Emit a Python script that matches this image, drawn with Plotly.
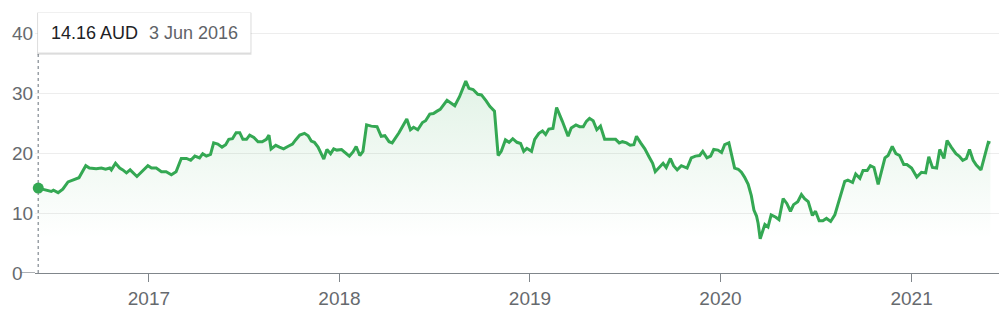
import plotly.graph_objects as go

# ---------------- data ----------------
dates = [
    "2016-06-03", "2016-06-18", "2016-06-28", "2016-07-02", "2016-07-11", "2016-07-20", "2016-07-30",
    "2016-08-08", "2016-08-20", "2016-09-02", "2016-09-09", "2016-09-22", "2016-10-02", "2016-10-10",
    "2016-10-18", "2016-10-21", "2016-10-29", "2016-11-06", "2016-11-12", "2016-11-19", "2016-11-26",
    "2016-12-09", "2016-12-20", "2016-12-30",
    "2017-01-06", "2017-01-15", "2017-01-25", "2017-02-03", "2017-02-13", "2017-02-22", "2017-03-04",
    "2017-03-14", "2017-03-22", "2017-03-30", "2017-04-08", "2017-04-14", "2017-04-21", "2017-04-29",
    "2017-05-05", "2017-05-13", "2017-05-21", "2017-05-28", "2017-06-03", "2017-06-10", "2017-06-17",
    "2017-06-24", "2017-06-30", "2017-07-07", "2017-07-13", "2017-07-21", "2017-07-29", "2017-08-06",
    "2017-08-14", "2017-08-19", "2017-08-23", "2017-09-01", "2017-09-08", "2017-09-16", "2017-09-24",
    "2017-10-03", "2017-10-09", "2017-10-17", "2017-10-26", "2017-11-02", "2017-11-08", "2017-11-14",
    "2017-11-21", "2017-11-26", "2017-12-02", "2017-12-08", "2017-12-15", "2017-12-21", "2017-12-27",
    "2018-01-05", "2018-01-14", "2018-01-20", "2018-01-27", "2018-02-02", "2018-02-09", "2018-02-15",
    "2018-02-22", "2018-03-03", "2018-03-14", "2018-03-22", "2018-03-29", "2018-04-06", "2018-04-12",
    "2018-04-25", "2018-05-10", "2018-05-17", "2018-05-23", "2018-05-31", "2018-06-09", "2018-06-15",
    "2018-06-23", "2018-06-30", "2018-07-07", "2018-07-13", "2018-07-26", "2018-08-10", "2018-08-19",
    "2018-08-31", "2018-09-06", "2018-09-14", "2018-09-23", "2018-09-30", "2018-10-09", "2018-10-16",
    "2018-10-25", "2018-11-01", "2018-11-07", "2018-11-15", "2018-11-22", "2018-11-29", "2018-12-07",
    "2018-12-14", "2018-12-20", "2018-12-26",
    "2019-01-04", "2019-01-10", "2019-01-18", "2019-01-25", "2019-01-31", "2019-02-06", "2019-02-14",
    "2019-02-21", "2019-03-04", "2019-03-15", "2019-03-21", "2019-03-30", "2019-04-06", "2019-04-13",
    "2019-04-19", "2019-04-25", "2019-05-02", "2019-05-09", "2019-05-16", "2019-05-24", "2019-06-03",
    "2019-06-14", "2019-06-21", "2019-06-27", "2019-07-05", "2019-07-12", "2019-07-19", "2019-07-24",
    "2019-08-01", "2019-08-09", "2019-08-17", "2019-08-24", "2019-08-29", "2019-09-07", "2019-09-13",
    "2019-09-19", "2019-09-27", "2019-10-03", "2019-10-10", "2019-10-18", "2019-10-29", "2019-11-06",
    "2019-11-14", "2019-11-22", "2019-11-28", "2019-12-06", "2019-12-13", "2019-12-19", "2019-12-27",
    "2020-01-03", "2020-01-09", "2020-01-17", "2020-01-28", "2020-02-04", "2020-02-10", "2020-02-16",
    "2020-02-23", "2020-02-29", "2020-03-05", "2020-03-10", "2020-03-13", "2020-03-17", "2020-03-26",
    "2020-04-01", "2020-04-07", "2020-04-16", "2020-04-22", "2020-04-30", "2020-05-07", "2020-05-14",
    "2020-05-20", "2020-05-28", "2020-06-04", "2020-06-10", "2020-06-17", "2020-06-25", "2020-07-01",
    "2020-07-08", "2020-07-15", "2020-07-22", "2020-07-30", "2020-08-07", "2020-08-13", "2020-08-20",
    "2020-08-26", "2020-09-01", "2020-09-10", "2020-09-16", "2020-09-24", "2020-09-30", "2020-10-08",
    "2020-10-14", "2020-10-21", "2020-10-29", "2020-11-04", "2020-11-11", "2020-11-17", "2020-11-25",
    "2020-12-02", "2020-12-09", "2020-12-17", "2020-12-23",
    "2021-01-01", "2021-01-11", "2021-01-20", "2021-01-28", "2021-02-03", "2021-02-10", "2021-02-18",
    "2021-02-24", "2021-03-04", "2021-03-10", "2021-03-18", "2021-03-27", "2021-04-02", "2021-04-09",
    "2021-04-16", "2021-04-22", "2021-04-29", "2021-05-05", "2021-05-14", "2021-05-21", "2021-05-28",
    "2021-06-01",
]

prices = [
    14.16, 13.8, 13.6, 13.8, 13.4, 14.0, 15.2, 15.5, 15.9, 17.9, 17.5, 17.4, 17.5, 17.3, 17.5, 17.2,
    18.3, 17.5, 17.2, 16.7, 17.2, 16.1, 17.1, 17.9,
    17.5, 17.5, 16.9, 16.9, 16.4, 16.9, 19.1, 19.1, 18.8, 19.5, 19.2, 19.9, 19.5, 19.8, 21.7, 21.5,
    21.0, 21.4, 22.3, 22.4, 23.4, 23.4, 22.3, 22.3, 23.0, 22.6, 21.9, 21.9, 22.3, 23.0, 20.7, 21.3,
    21.0, 20.7, 21.1, 21.5, 22.2, 23.0, 23.3, 22.9, 22.0, 21.8, 21.0, 20.2, 19.0, 20.6, 19.9, 20.7,
    20.5,
    20.6, 19.9, 19.5, 20.2, 21.1, 19.6, 20.3, 24.7, 24.5, 24.4, 22.8, 22.9, 21.9, 21.7, 23.4, 25.7,
    23.9, 24.3, 23.9, 25.1, 25.4, 26.5, 26.6, 27.0, 27.3, 28.8, 27.9, 29.4, 32.0, 30.8, 30.6, 29.8,
    29.7, 28.7, 27.8, 27.0, 19.6, 20.3, 22.2, 21.8, 22.4, 21.8, 21.6, 20.3, 20.8,
    20.3, 22.3, 23.3, 23.7, 23.1, 24.0, 24.1, 27.6, 25.3, 22.8, 24.2, 24.7, 24.4, 24.4, 25.3, 25.8,
    25.4, 23.9, 24.5, 22.3, 22.3, 22.3, 21.7, 21.9, 21.7, 21.3, 21.4, 22.8, 21.7, 20.7, 19.4, 18.3,
    16.9, 17.8, 18.3, 17.6, 19.1, 17.9, 17.2, 17.9, 17.5, 19.2, 19.5, 19.6, 20.3, 19.2, 19.5, 20.6,
    20.5,
    20.1, 21.4, 21.7, 17.5, 17.3, 16.8, 16.0, 14.8, 12.9, 10.5, 9.5, 8.3, 5.7, 8.1, 7.7, 9.7, 9.3,
    8.9, 12.4, 11.6, 10.3, 11.4, 11.9, 13.1, 12.4, 11.9, 9.6, 10.3, 8.7, 8.7, 9.1, 8.6, 9.7, 11.6,
    13.5, 15.3, 15.5, 15.1, 16.5, 15.8, 17.1, 17.1, 17.9, 17.6, 14.8, 17.0, 19.2, 19.6, 21.1, 19.9,
    19.6, 18.1, 18.1,
    17.5, 16.0, 16.8, 16.7, 19.4, 17.6, 17.5, 20.6, 19.1, 22.1, 21.0, 19.9, 19.5, 18.8, 19.1, 20.6,
    18.8, 18.0, 17.2, 19.5, 21.8, 21.7,
]

y_ticks = [0, 10, 20, 30, 40]
x_tick_dates = ["2017-01-01", "2018-01-01", "2019-01-01", "2020-01-01", "2021-01-01"]
x_tick_labels = ["2017", "2018", "2019", "2020", "2021"]
x_range = ["2016-05-27 18:00", "2021-06-17 12:00"]
y_range = [0, 42.2]

tooltip_price = "14.16 AUD"
tooltip_date = "3 Jun 2016"

# ---------------- style ----------------
GREEN = "#34a853"
AXIS_GRAY = "#80868b"
LABEL_GRAY = "#666a6e"
GRID = "#ededed"
FONT = "Arial, Liberation Sans, Helvetica, sans-serif"

W, H = 1005, 315
ML, MR, MT, MB = 35, 6, 20, 33
PW, PH = W - ML - MR, H - MT - MB


def px_x(p):
    return (p - ML) / PW


def px_y(p):
    return (H - MB - p) / PH


fig = go.Figure()

fig.add_trace(go.Scatter(
    x=dates, y=prices, mode="lines",
    line=dict(color=GREEN, width=3),
    fill="tozeroy",
    fillgradient=dict(
        type="vertical",
        colorscale=[[0, "rgba(52,168,83,0)"], [1, "rgba(52,168,83,0.14)"]],
        start=7, stop=32,
    ),
    hoverinfo="skip",
))

fig.add_trace(go.Scatter(
    x=[dates[0]], y=[prices[0]], mode="markers",
    marker=dict(color=GREEN, size=11),
    cliponaxis=False,
    hoverinfo="skip",
))

shapes = [
    # dotted crosshair line
    dict(type="line", xref="x", yref="paper", x0=dates[0], x1=dates[0],
         y0=0, y1=px_y(55), line=dict(color="#9aa0a6", width=1.5, dash="dot"), layer="below"),
    # extension of the baseline to the left, under the "0" label
    dict(type="line", xref="paper", yref="y", x0=px_x(20), x1=0, y0=0, y1=0,
         line=dict(color=AXIS_GRAY, width=1.3)),
    # tooltip shadow
    dict(type="rect", xref="paper", yref="paper",
         x0=px_x(37), x1=px_x(251.5), y0=px_y(56), y1=px_y(12.5),
         fillcolor="rgba(0,0,0,0.12)", line=dict(width=0)),
    # tooltip box
    dict(type="rect", xref="paper", yref="paper",
         x0=px_x(37.7), x1=px_x(250.7), y0=px_y(54), y1=px_y(12.3),
         fillcolor="white", line=dict(color="rgba(0,0,0,0.05)", width=1)),
]

annotations = []
for v in y_ticks:
    annotations.append(dict(
        x=px_x(10), xref="paper", xanchor="left", y=v, yref="y", yanchor="middle",
        text=str(v), showarrow=False, font=dict(family=FONT, size=19, color=LABEL_GRAY),
    ))

annotations.append(dict(
    x=px_x(49), xref="paper", xanchor="left", y=px_y(33.5), yref="paper", yanchor="middle",
    text=tooltip_price, showarrow=False, font=dict(family=FONT, size=18, color="#202124"),
))
annotations.append(dict(
    x=px_x(147), xref="paper", xanchor="left", y=px_y(33.5), yref="paper", yanchor="middle",
    text=tooltip_date, showarrow=False, font=dict(family=FONT, size=18, color="#5f6368"),
))

fig.update_layout(
    width=W, height=H,
    margin=dict(l=ML, r=MR, t=MT, b=MB, pad=0),
    paper_bgcolor="white", plot_bgcolor="white",
    showlegend=False,
    shapes=shapes,
    annotations=annotations,
    xaxis=dict(
        type="date", range=x_range,
        tickvals=x_tick_dates, ticktext=x_tick_labels,
        ticks="outside", ticklen=8, tickwidth=1.3, tickcolor=AXIS_GRAY,
        showline=True, linecolor=AXIS_GRAY, linewidth=1.3,
        showgrid=False, zeroline=False,
        tickfont=dict(family=FONT, size=19, color=LABEL_GRAY),
        fixedrange=True,
    ),
    yaxis=dict(
        range=y_range, tickvals=y_ticks, showticklabels=False,
        showgrid=True, gridcolor=GRID, gridwidth=1,
        zeroline=False, showline=False, ticks="",
        fixedrange=True,
    ),
)

fig.write_html("out.html", config={"displayModeBar": False})
